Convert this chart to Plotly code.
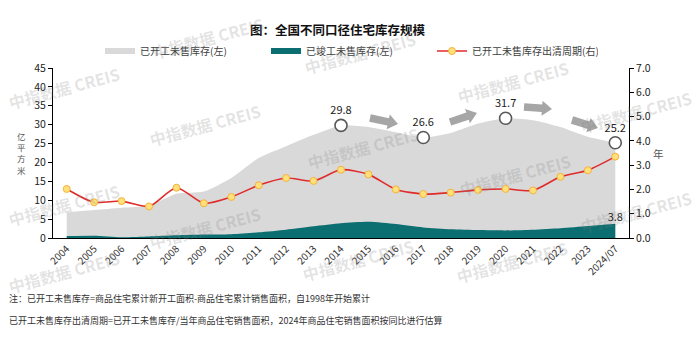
import math
import plotly.graph_objects as go

# ---- data -------------------------------------------------------------
years = ["2004", "2005", "2006", "2007", "2008", "2009", "2010", "2011", "2012",
         "2013", "2014", "2015", "2016", "2017", "2018", "2019", "2020", "2021",
         "2022", "2023", "2024/07"]
# 已开工未售库存 (亿平方米)
started_unsold = [6.8, 7.4, 8.0, 8.6, 11.7, 12.3, 15.9, 21.2, 24.3, 27.3, 29.8,
                  29.4, 28.0, 26.6, 27.8, 30.3, 31.7, 31.2, 29.4, 26.8, 25.2]
# 已竣工未售库存 (亿平方米)
completed_unsold = [0.5, 0.6, 0.2, 0.4, 0.7, 0.9, 1.0, 1.5, 2.2, 3.1, 3.9,
                    4.3, 3.7, 2.8, 2.3, 2.1, 2.0, 2.2, 2.6, 3.2, 3.8]
# 已开工未售库存出清周期 (年)
clearance_years = [2.02, 1.47, 1.52, 1.30, 2.07, 1.43, 1.69, 2.17, 2.47, 2.35, 2.81,
                   2.62, 2.00, 1.81, 1.87, 1.98, 2.02, 1.96, 2.52, 2.79, 3.35]
# highlighted values of 已开工未售库存
peak_years = ["2014", "2017", "2020", "2024/07"]
peak_values = [29.8, 26.6, 31.7, 25.2]

FONT = "Noto Sans CJK SC"
W, H = 700, 340
L, R, T, B = 53, 71, 68, 102
PW, PH = W - L - R, H - T - B


def px(x, y):
    """pixel position -> paper coordinates"""
    return (x - L) / PW, (H - B - y) / PH


fig = go.Figure()

fig.add_trace(go.Scatter(
    x=years, y=started_unsold, name="已开工未售库存(左)",
    mode="none", fill="tozeroy", fillcolor="#D9D9D9",
    line=dict(shape="spline", smoothing=0.6), hoverinfo="skip"))

fig.add_trace(go.Scatter(
    x=years, y=completed_unsold, name="已竣工未售库存(左)",
    mode="none", fill="tozeroy", fillcolor="#0B6E70",
    line=dict(shape="spline", smoothing=0.6), hoverinfo="skip"))

fig.add_trace(go.Scatter(
    x=years, y=clearance_years, name="已开工未售库存出清周期(右)", yaxis="y2",
    mode="lines+markers",
    line=dict(color="#E02B2B", width=1.6, shape="spline", smoothing=0.7),
    marker=dict(size=7, color="#FFE07A", line=dict(color="#F4B23E", width=1))))

# circled highlights with labels
fig.add_trace(go.Scatter(
    x=peak_years, y=peak_values, mode="markers+text", showlegend=False,
    text=[f"{v:.1f}" for v in peak_values], textposition="top center",
    textfont=dict(family=FONT, size=11, color="#222222"),
    marker=dict(size=12, color="white", line=dict(color="#595959", width=1.6))))

# end label of 已竣工未售库存
fig.add_trace(go.Scatter(
    x=[years[-1]], y=[completed_unsold[-1]], mode="text", showlegend=False,
    text=[f"{completed_unsold[-1]:.1f}"], textposition="top center",
    textfont=dict(family=FONT, size=11, color="#222222")))

# ---- block arrows between the highlights -----------------------------
arrows = [((370, 118), (398, 124)), ((450, 122), (477, 113)),
          ((524, 107), (552, 109)), ((572, 120), (598, 128))]
shapes = []
for (x0, y0), (x1, y1) in arrows:
    dx, dy = x1 - x0, y1 - y0
    ln = math.hypot(dx, dy)
    ux, uy = dx / ln, dy / ln
    nx, ny = -uy, ux
    bw, hw, hl = 3.8, 7.5, 10
    bx, by = x1 - ux * hl, y1 - uy * hl
    pts = [(x0 + nx * bw, y0 + ny * bw), (bx + nx * bw, by + ny * bw),
           (bx + nx * hw, by + ny * hw), (x1, y1),
           (bx - nx * hw, by - ny * hw), (bx - nx * bw, by - ny * bw),
           (x0 - nx * bw, y0 - ny * bw)]
    pp = [px(a, b) for a, b in pts]
    path = "M " + " L ".join(f"{a:.5f},{b:.5f}" for a, b in pp) + " Z"
    shapes.append(dict(type="path", xref="paper", yref="paper", path=path,
                       fillcolor="#A6A6A6", line=dict(width=0), layer="above"))

annotations = []


def note(x, y, text, size, color="#333333", bold=False, xanchor="center", angle=0,
         family=FONT, pad=1):
    ax, ay = px(x, y)
    annotations.append(dict(
        x=ax, y=ay, xref="paper", yref="paper", text=f"<b>{text}</b>" if bold else text,
        showarrow=False, xanchor=xanchor, yanchor="middle", textangle=angle,
        borderpad=pad, font=dict(family=family, size=size, color=color)))


note(338, 30, "图：全国不同口径住宅库存规模", 12.5, "#111111", bold=True)
for i, ch in enumerate("亿平方米"):
    note(21, 136 + i * 11.2, ch, 8.5, "#555555", pad=0)
note(658, 153, "年", 10.5, "#555555")
note(7, 298, "注：已开工未售库存=商品住宅累计新开工面积-商品住宅累计销售面积，自1998年开始累计",
     9.0, "#333333", xanchor="left")
note(7, 320, "已开工未售库存出清周期=已开工未售库存/当年商品住宅销售面积，2024年商品住宅销售面积按同比进行估算",
     9.0, "#333333", xanchor="left")

# watermark
for wx, wy in [(64, 88), (64, 205), (205, 125), (205, 228), (208, 38), (360, 53),
               (513, 82), (363, 148), (515, 175), (636, 112), (636, 212),
               (358, 260), (512, 262), (64, 272)]:
    note(wx, wy, "中指数据 CREIS", 16, "rgba(130,130,130,0.22)", bold=True, angle=-15)

fig.update_layout(
    width=W, height=H,
    margin=dict(l=L, r=R, t=T, b=B),
    paper_bgcolor="white", plot_bgcolor="white",
    font=dict(family=FONT, size=10.5, color="#333333"),
    showlegend=True,
    legend=dict(orientation="h", x=px(100, 0)[0], xanchor="left",
                y=px(0, 51)[1], yanchor="middle",
                font=dict(family=FONT, size=10, color="#404040"),
                entrywidth=121, bgcolor="rgba(0,0,0,0)", itemwidth=30),
    xaxis=dict(type="category", range=[-0.5, len(years) - 0.5], tickangle=-45,
               showgrid=False, showline=True, linecolor="#000000", linewidth=1,
               ticks="", tickfont=dict(family=FONT, size=10, color="#333333")),
    yaxis=dict(range=[0, 45], dtick=5, showgrid=False, zeroline=False,
               showline=True, linecolor="#000000", linewidth=1,
               ticks="outside", ticklen=4, tickcolor="#000000",
               tickfont=dict(family=FONT, size=10.5, color="#222222")),
    yaxis2=dict(range=[0, 7], dtick=1, tickformat=".1f", overlaying="y", side="right",
                showgrid=False, zeroline=False, showline=True, linecolor="#000000",
                linewidth=1, ticks="outside", ticklen=4, tickcolor="#000000",
                tickfont=dict(family=FONT, size=10.5, color="#222222")),
    shapes=shapes,
    annotations=annotations,
)

fig.write_html("out.html")
